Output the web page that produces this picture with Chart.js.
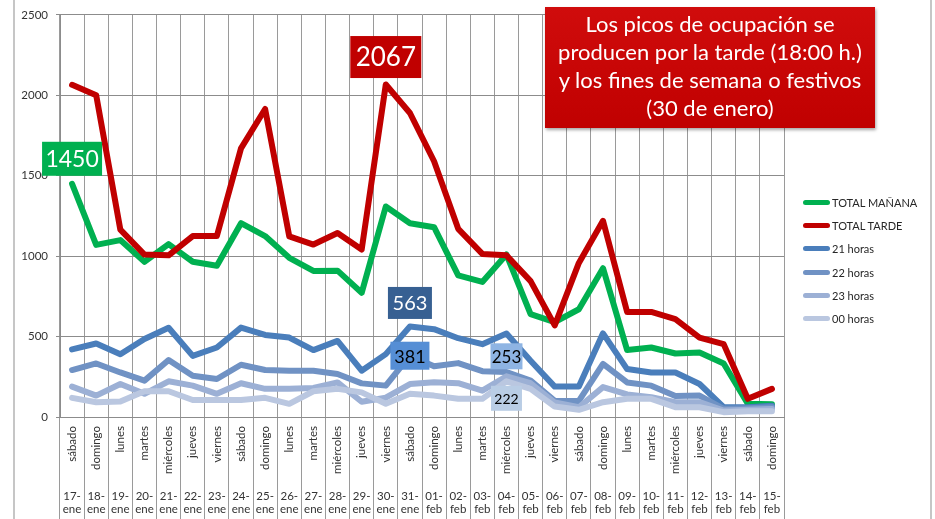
<!DOCTYPE html>
<html lang="es">
<head>
<meta charset="utf-8">
<title>Ocupación por franjas horarias</title>
<script src="https://cdn.jsdelivr.net/npm/chart.js@4"></script>
<style>
  html, body { margin: 0; padding: 0; background: #fff; }
  body { width: 935px; height: 519px; position: relative; overflow: hidden; font-family: Lato, sans-serif; }
  #marco { position: absolute; left: 13px; top: 0; width: 915px; height: 519px; border-left: 2px solid #c6c6c6; border-right: 2px solid #c6c6c6; }
  #chart { display: block; }
  #nota { position: absolute; left: 545px; top: 7px; width: 330px; height: 121px; box-sizing: border-box; padding-top: 3px;
          background: linear-gradient(#d00c0c, #c00000); box-shadow: 1px 2px 3px rgba(0,0,0,.35);
          color: #fff; text-align: center; font-size: 22px; line-height: 28px; white-space: nowrap; }
  #leyenda { position: absolute; left: 803px; top: 191px; font-size: 11px; color: #262626; }
  #leyenda div { height: 23.2px; display: flex; align-items: center; white-space: nowrap; }
  #leyenda .linea { display: inline-block; width: 27px; height: 5px; border-radius: 3px; margin-right: 2px; }
</style>
</head>
<body>
<div id="marco"><canvas id="chart" width="915" height="519"></canvas></div>
<div id="nota">Los picos de ocupación se<br>producen por la tarde (18:00 h.)<br>y los fines de semana o festivos<br>(30 de enero)</div>
<div id="leyenda"></div>
<script>
// dias y fechas del eje x (17 de enero - 15 de febrero)
var dias = ['sábado','domingo','lunes','martes','miércoles','jueves','viernes',
  'sábado','domingo','lunes','martes','miércoles','jueves','viernes',
  'sábado','domingo','lunes','martes','miércoles','jueves','viernes',
  'sábado','domingo','lunes','martes','miércoles','jueves','viernes',
  'sábado','domingo'];
var fechas = [['17-','ene'],['18-','ene'],['19-','ene'],['20-','ene'],['21-','ene'],['22-','ene'],['23-','ene'],
  ['24-','ene'],['25-','ene'],['26-','ene'],['27-','ene'],['28-','ene'],['29-','ene'],['30-','ene'],['31-','ene'],
  ['01-','feb'],['02-','feb'],['03-','feb'],['04-','feb'],['05-','feb'],['06-','feb'],['07-','feb'],['08-','feb'],
  ['09-','feb'],['10-','feb'],['11-','feb'],['12-','feb'],['13-','feb'],['14-','feb'],['15-','feb']];
var ticksY = [0, 500, 1000, 1500, 2000, 2500];

var nombres = ['TOTAL MAÑANA','TOTAL TARDE','21 horas','22 horas','23 horas','00 horas'];
var totalManana = [1450,1070,1100,965,1075,965,940,1205,1125,990,908,910,772,1309,1205,1180,880,840,1010,640,590,670,925,416,432,395,401,333,82,80];
var totalTarde = [2065,2000,1165,1010,1005,1125,1125,1670,1915,1123,1072,1144,1041,2067,1890,1590,1170,1014,1005,845,570,958,1220,653,653,608,494,453,113,175];
var h21 = [420,457,390,485,555,380,432,556,510,494,416,473,288,391,563,546,490,453,519,350,189,189,520,298,277,277,205,61,61,70];
var h22 = [292,333,277,226,354,257,236,325,292,288,288,267,209,195,381,315,335,285,280,226,100,100,330,215,195,130,133,51,55,61];
var h23 = [189,133,205,144,222,195,144,210,175,175,181,215,95,120,205,216,210,164,253,210,90,61,186,140,123,92,92,40,45,50];
var h00 = [119,92,96,160,160,106,106,106,119,82,160,175,153,82,144,133,113,113,222,175,65,45,92,113,113,61,61,30,35,35];

var valores = [totalManana, totalTarde, h21, h22, h23, h00];
var colores = ['#00b050','#c00000','#4a7ebb','#7092c4','#9cb0d5','#bac7e0'];

// cajas con los maximos de cada serie
var etiquetas = [
  { serie: 0, punto: 0,  fondo: '#00b050', texto: '#fff', fuente: 23, ancho: 60, alto: 34, dy: -25 },
  { serie: 1, punto: 13, fondo: '#c00000', texto: '#fff', fuente: 26, ancho: 71, alto: 42, dy: -27.5 },
  { serie: 2, punto: 14, fondo: '#376092', texto: '#fff', fuente: 20, ancho: 44, alto: 32, dy: -23.5 },
  { serie: 3, punto: 14, fondo: '#558ed5', texto: '#000', fuente: 18, ancho: 39, alto: 28, dy: 0 },
  { serie: 4, punto: 18, fondo: '#8eb4e3', texto: '#000', fuente: 17, ancho: 32, alto: 26, dy: -20 },
  { serie: 5, punto: 18, fondo: '#b9cde5', texto: '#000', fuente: 14, ancho: 31, alto: 25, dy: 17 }
];

var pluginEtiquetas = {
  id: 'etiquetas',
  afterDatasetsDraw: function(chart) {
    var c = chart.ctx;
    etiquetas.forEach(function(e) {
      var p = chart.getDatasetMeta(e.serie).data[e.punto];
      var valor = chart.data.datasets[e.serie].data[e.punto];
      var cx = p.x, cy = p.y + e.dy;
      c.save();
      c.fillStyle = e.fondo;
      c.fillRect(cx - e.ancho / 2, cy - e.alto / 2, e.ancho, e.alto);
      c.fillStyle = e.texto;
      c.font = e.fuente + 'px Lato';
      c.textAlign = 'center';
      c.textBaseline = 'middle';
      c.fillText(String(valor), cx, cy + 1);
      c.restore();
    });
  }
};

var fuenteEje = { family: 'Lato', size: 11.5 };

var ctx = document.getElementById('chart').getContext('2d');
var grafico = new Chart(ctx, {
  type: 'line',
  data: {
    labels: dias,
    datasets: nombres.map(function(n, i) {
      return {
        label: n,
        data: valores[i],
        borderColor: colores[i],
        backgroundColor: colores[i],
        borderWidth: 6,
        pointRadius: 0,
        tension: 0,
        borderJoinStyle: 'round',
        borderCapStyle: 'round',
        fill: false,
        order: nombres.length - i
      };
    })
  },
  options: {
    responsive: false,
    animation: false,
    devicePixelRatio: 1,
    layout: { padding: { top: 12, right: 146, bottom: 0, left: 0 } },
    plugins: { legend: { display: false }, tooltip: { enabled: false } },
    scales: {
      x: {
        offset: true,
        grid: { offset: true, color: '#9a9a9a', tickLength: 102 },
        border: { color: '#8c8c8c' },
        ticks: { autoSkip: false, minRotation: 90, maxRotation: 90, padding: -93, color: '#333', font: fuenteEje },
        afterFit: function(s) { s.height = 62; }
      },
      x2: {
        type: 'category',
        position: 'bottom',
        labels: fechas,
        offset: true,
        grid: { display: false, drawTicks: false },
        border: { display: false },
        ticks: { autoSkip: false, minRotation: 0, maxRotation: 0, padding: 10, color: '#333', font: fuenteEje },
        afterFit: function(s) { s.height = 40; }
      },
      y: {
        min: 0,
        max: 2500,
        grid: { color: '#8c8c8c', tickLength: 4 },
        border: { color: '#8c8c8c' },
        ticks: { padding: 8, color: '#333', font: fuenteEje, callback: function(v) { return String(v); } },
        afterBuildTicks: function(s) { s.ticks = ticksY.map(function(v) { return { value: v }; }); },
        afterFit: function(s) { s.width = 45; }
      }
    }
  },
  plugins: [pluginEtiquetas]
});

// leyenda a la derecha
var leyenda = document.getElementById('leyenda');
nombres.forEach(function(n, i) {
  var d = document.createElement('div');
  d.innerHTML = '<span class="linea" style="background:' + colores[i] + '"></span>' + n;
  leyenda.appendChild(d);
});
</script>
</body>
</html>
